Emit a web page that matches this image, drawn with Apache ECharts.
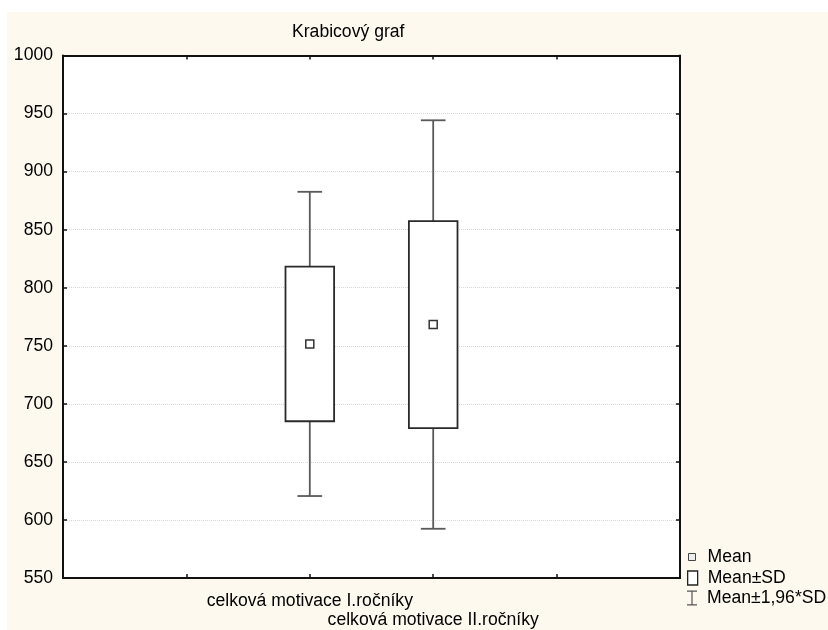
<!DOCTYPE html>
<html>
<head>
<meta charset="utf-8">
<script src="https://cdn.jsdelivr.net/npm/echarts@6/dist/echarts.min.js"></script>
<style>
  html, body { margin: 0; padding: 0; background: #ffffff; width: 828px; height: 630px; overflow: hidden; }
  #chart { position: absolute; left: 7px; top: 12px; width: 821px; height: 618px; }
</style>
</head>
<body>
<div id="chart"></div>
<script>
// Groups on the horizontal axis
const categories = ['celková motivace I.ročníky', 'celková motivace II.ročníky'];
// Mean of each group
const means = [751.6, 768.3];
// Mean ± SD (box edges)
const sdLow = [685.0, 679.0];
const sdHigh = [818.2, 857.4];
// Mean ± 1,96*SD (whisker ends)
const ciLow = [620.6, 592.4];
const ciHigh = [882.6, 944.2];
// Vertical axis ticks
const yTicks = [550, 600, 650, 700, 750, 800, 850, 900, 950, 1000];

const FONT = "'Liberation Sans', Arial, sans-serif";
const FS = 17.6;
const firstSlot = 2;           // groups sit on the 2nd and 3rd inner ticks of a 0..5 axis
const xSlots = 5;

const xOf = i => i + firstSlot;
const meanData = means.map((m, i) => [xOf(i), m]);
const boxData = means.map((m, i) => [xOf(i), sdLow[i], sdHigh[i]]);
const whiskerData = means.map((m, i) => [xOf(i), ciLow[i], sdLow[i], sdHigh[i], ciHigh[i]]);

const yMin = yTicks[0];
const yMax = yTicks[yTicks.length - 1];
const yStep = yTicks[1] - yTicks[0];

const chart = echarts.init(document.getElementById('chart'), null, { renderer: 'canvas' });

const axisLine = { show: true, onZero: false, lineStyle: { color: '#111', width: 2 } };
const innerTick = { show: true, inside: true, length: 4, lineStyle: { color: '#111', width: 1.5 } };

const option = {
  backgroundColor: '#fef9ef',
  animation: false,
  textStyle: { fontFamily: FONT },
  title: {
    text: 'Krabicový graf',
    left: 285,
    top: 11,
    padding: 0,
    textStyle: { fontFamily: FONT, fontSize: FS, fontWeight: 'normal', color: '#000' }
  },
  legend: [
    {
      orient: 'vertical', left: 681, top: 535, padding: 0,
      itemWidth: 7, itemHeight: 7,
      data: [{ name: 'Mean', icon: 'rect' }],
      itemStyle: { color: '#eeeeee', borderColor: '#444', borderWidth: 1 },
      textStyle: { fontFamily: FONT, fontSize: FS, color: '#000', lineHeight: 20, padding: [0, 0, 0, 7] },
      selectedMode: false
    },
    {
      orient: 'vertical', left: 680, top: 556, padding: 0,
      itemWidth: 10, itemHeight: 14,
      data: [{ name: 'Mean±SD', icon: 'rect' }],
      itemStyle: { color: '#ffffff', borderColor: '#222', borderWidth: 1.3 },
      textStyle: { fontFamily: FONT, fontSize: FS, color: '#000', lineHeight: 20, padding: [0, 0, 0, 5] },
      selectedMode: false
    },
    {
      orient: 'vertical', left: 680, top: 576, padding: 0,
      itemWidth: 10, itemHeight: 15,
      data: [{ name: 'Mean±1,96*SD', icon: 'path://M0,0H10V1.2H5.6V13.8H10V15H0V13.8H4.4V1.2H0Z' }],
      itemStyle: { color: '#555', borderWidth: 0 },
      textStyle: { fontFamily: FONT, fontSize: FS, color: '#000', lineHeight: 20, padding: [0, 0, 0, 5] },
      selectedMode: false
    }
  ],
  grid: {
    left: 56, right: 148, top: 43.5, bottom: 49,
    show: true, backgroundColor: '#ffffff', borderWidth: 0
  },
  xAxis: [
    {
      type: 'value', position: 'bottom', min: 0, max: xSlots, interval: 1,
      axisLine, axisTick: innerTick, splitLine: { show: false },
      axisLabel: {
        margin: 14, fontFamily: FONT, fontSize: FS, color: '#000', lineHeight: 19,
        formatter: v => {
          const i = Math.round(v) - firstSlot;
          return (i >= 0 && i < categories.length) ? '\n'.repeat(i) + categories[i] : '';
        }
      }
    },
    {
      type: 'value', position: 'top', min: 0, max: xSlots, interval: 1,
      axisLine, axisTick: innerTick, splitLine: { show: false }, axisLabel: { show: false }
    }
  ],
  yAxis: [
    {
      type: 'value', position: 'left', min: yMin, max: yMax, interval: yStep,
      axisLine, axisTick: innerTick,
      splitLine: { show: true, lineStyle: { color: '#d8d8d8', type: 'dotted', width: 1 } },
      axisLabel: { margin: 10, fontFamily: FONT, fontSize: FS, color: '#000', formatter: v => String(v) }
    },
    {
      type: 'value', position: 'right', min: yMin, max: yMax, interval: yStep,
      axisLine, axisTick: innerTick, splitLine: { show: false }, axisLabel: { show: false }
    }
  ],
  series: [
    {
      name: 'Mean±1,96*SD',
      type: 'custom',
      silent: true,
      data: whiskerData,
      renderItem: (params, api) => {
        const x = api.value(0);
        const capHalf = api.size([1, 0])[0] * 0.1;
        const lo = api.coord([x, api.value(1)]);
        const boxLo = api.coord([x, api.value(2)]);
        const boxHi = api.coord([x, api.value(3)]);
        const hi = api.coord([x, api.value(4)]);
        const style = { stroke: '#5a5a5a', lineWidth: 1.8 };
        return {
          type: 'group',
          children: [
            { type: 'line', shape: { x1: hi[0], y1: hi[1], x2: boxHi[0], y2: boxHi[1] }, style },
            { type: 'line', shape: { x1: hi[0] - capHalf, y1: hi[1], x2: hi[0] + capHalf, y2: hi[1] }, style },
            { type: 'line', shape: { x1: boxLo[0], y1: boxLo[1], x2: lo[0], y2: lo[1] }, style },
            { type: 'line', shape: { x1: lo[0] - capHalf, y1: lo[1], x2: lo[0] + capHalf, y2: lo[1] }, style }
          ]
        };
      }
    },
    {
      name: 'Mean±SD',
      type: 'custom',
      silent: true,
      data: boxData,
      renderItem: (params, api) => {
        const x = api.value(0);
        const halfW = api.size([1, 0])[0] * 0.197;
        const lo = api.coord([x, api.value(1)]);
        const hi = api.coord([x, api.value(2)]);
        return {
          type: 'rect',
          shape: { x: lo[0] - halfW, y: hi[1], width: halfW * 2, height: lo[1] - hi[1] },
          style: { fill: '#ffffff', stroke: '#2a2a2a', lineWidth: 1.8 }
        };
      }
    },
    {
      name: 'Mean',
      type: 'scatter',
      silent: true,
      data: meanData,
      symbol: 'rect',
      symbolSize: 8,
      itemStyle: { color: '#ffffff', borderColor: '#333', borderWidth: 1.5, opacity: 1 }
    }
  ]
};

chart.setOption(option);
</script>
</body>
</html>
